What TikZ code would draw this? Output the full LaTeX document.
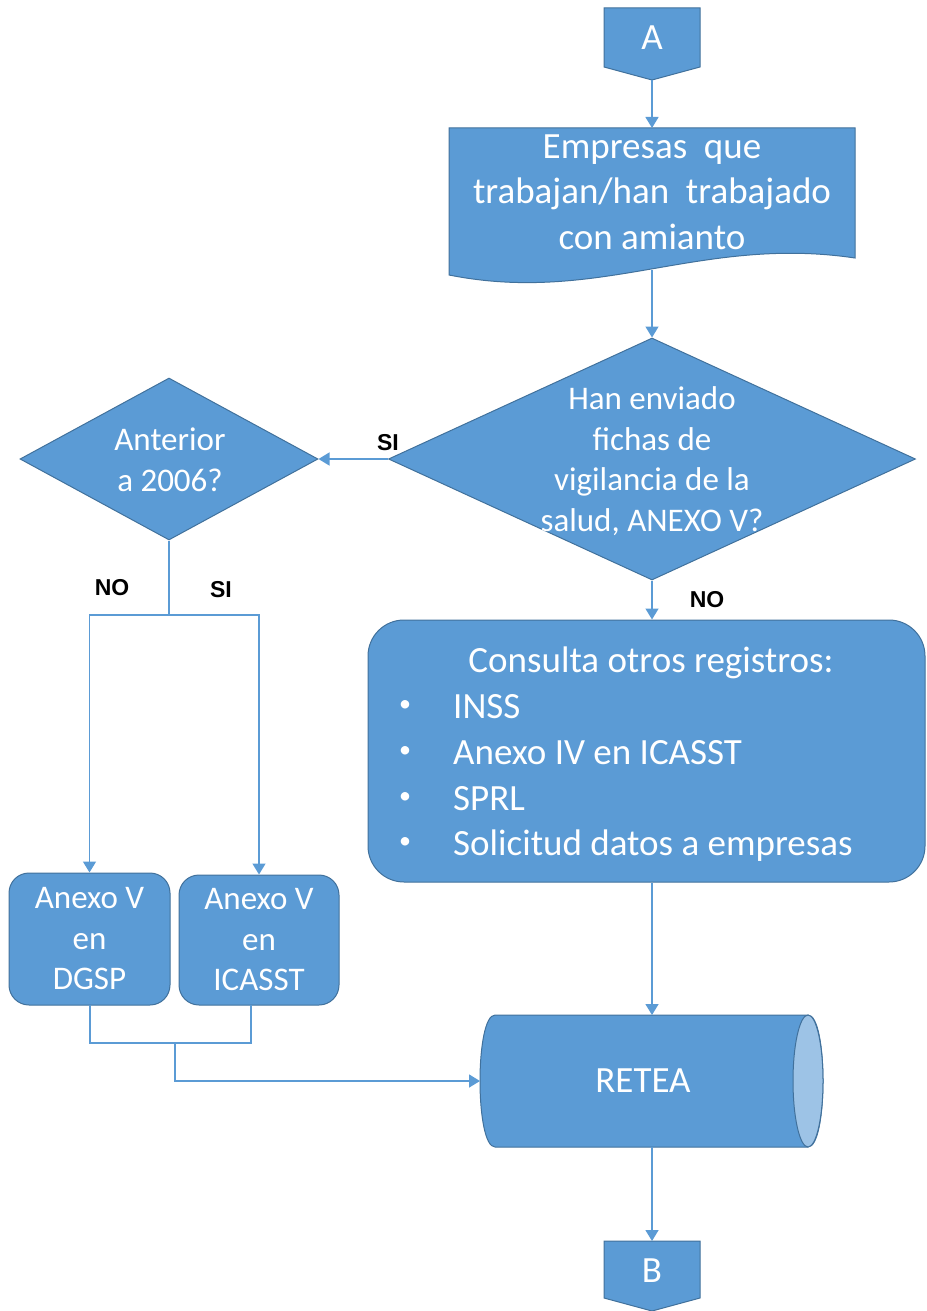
\documentclass[tikz,border=0pt]{standalone}
\usepackage{fontspec}
\setmainfont{Carlito}
\newfontfamily\lblfont{Liberation Sans}
\usetikzlibrary{shapes.geometric,arrows.meta}
\definecolor{boxblue}{HTML}{5B9BD5}
\definecolor{edgeblue}{HTML}{41719C}
\definecolor{endblue}{HTML}{9DC3E6}
\tikzset{
    box/.style={draw=edgeblue,fill=boxblue,line width=1pt},
    txt/.style={text=white,align=center,inner sep=0pt,font=\fontsize{33}{40.5}\selectfont},
    bigtxt/.style={txt,font=\fontsize{37}{45.5}\selectfont},
    dec/.style={box,diamond,inner sep=0pt},
    rbox/.style={box,rounded corners=20pt,inner sep=0pt},
    lbl/.style={font=\lblfont\bfseries\fontsize{23}{23}\selectfont,inner sep=0pt},
    link/.style={draw=boxblue,line width=1.5pt,-{Triangle[width=13pt,length=11pt]}},
    plain/.style={draw=boxblue,line width=1.5pt}
}
\begin{document}
\begin{tikzpicture}[x=1pt,y=-1pt]
\useasboundingbox (0,0) rectangle (926,1311);

\draw[box] (604,8)--(700,8)--(700,67)--(652,80)--(604,67)--cycle;
\node[bigtxt] (a) at (652,38) {A};
\coordinate (aout) at (652,80);

\draw[box] (449,128)--(855,128)--(855,258) .. controls (700,235) and (600,305) .. (449,275)--cycle;
\node[bigtxt] (emp) at (652,192) {Empresas \ que\\trabajan/han \ trabajado\\con amianto};
\coordinate (empin) at (652,128);
\coordinate (empout) at (652,270);

\node[dec,minimum width=527pt,minimum height=242pt] (q1) at (652,459) {};
\node[txt] (q1txt) at (652,461) {Han enviado\\fichas de\\vigilancia de la\\salud, ANEXO V?};

\node[dec,minimum width=298pt,minimum height=162pt] (q2) at (169,459) {};
\node[txt] (q2txt) at (170,460) {Anterior\\a 2006?};

\node[rbox,minimum width=161pt,minimum height=132pt] (dgsp) at (89.5,939) {};
\node[txt] (dgsptxt) at (dgsp) {Anexo V\\en\\DGSP};
\node[rbox,minimum width=160pt,minimum height=130pt] (icasst) at (259,940) {};
\node[txt] (icassttxt) at (icasst) {Anexo V\\en\\ICASST};

\node[rbox,rounded corners=36pt,minimum width=557pt,minimum height=262pt] (cons) at (646.5,751) {};
\node[bigtxt,anchor=base] (constit) at (651,672) {Consulta otros registros:};
\foreach \y/\ytext in {718/INSS,764/Anexo IV en ICASST,810/SPRL,855/Solicitud datos a empresas}
{
    \node[bigtxt,font=\fontsize{24}{24}\selectfont] (dot\y) at (405,\y-12) {\textbullet};
    \node[bigtxt,anchor=base west] (item\y) at (453,\y) {\ytext};
}

\draw[box] (495,1015)--(808,1015) .. controls (828,1015) and (828,1147) .. (808,1147)--(495,1147) .. controls (475,1147) and (475,1015) .. (495,1015)--cycle;
\draw[box,fill=endblue] (808,1081) ellipse [x radius=15,y radius=66];
\node[bigtxt] (retea) at (643,1081) {RETEA};
\coordinate (retin) at (652,1015);
\coordinate (retout) at (652,1147);
\coordinate (retleft) at (480,1081);

\draw[box] (604,1241)--(700,1241)--(700,1298)--(652,1311)--(604,1298)--cycle;
\node[bigtxt] (b) at (652,1271) {B};
\coordinate (bin) at (652,1241);

\draw[link] (aout)--(empin);
\draw[link] (empout)--(q1.north);
\draw[link] (q1.west)--(q2.east);
\draw[link] (q1.south)--(q1.south |- cons.north);

\coordinate (split) at (169,615);
\draw[plain] (q2.south)--(split);
\draw[link] (split) -| (dgsp.north);
\draw[link] (split) -| (icasst.north);

\coordinate (dgspout) at (90,1005);
\coordinate (icout) at (251,1005);
\coordinate (join) at (175,1043);
\draw[plain] (dgspout) |- (join);
\draw[plain] (icout) |- (join);
\draw[link] (join) |- (retleft);
\draw[link] (cons.south -| retin)--(retin);
\draw[link] (retout)--(bin);

\foreach \x/\y/\xtext/\nm in {388/443/SI/si1,112/588/NO/no1,221/590/SI/si2,707/600/NO/no2}
{
    \node[lbl] (\nm) at (\x,\y) {\xtext};
}
\end{tikzpicture}
\end{document}
